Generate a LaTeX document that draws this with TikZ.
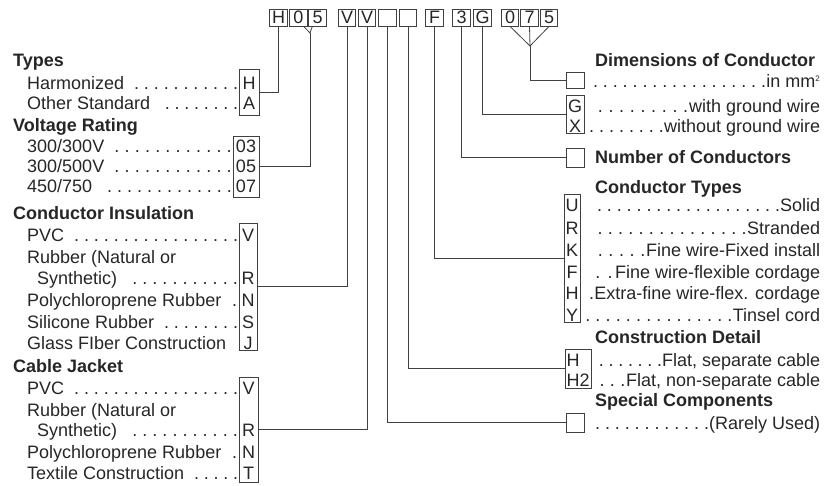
\documentclass[tikz,border=0pt]{standalone}
\usepackage{fontspec}
\setmainfont{Liberation Sans}
\usetikzlibrary{positioning}
\newcommand\dotsto{\xleaders\hbox to 9.7pt{\hss.}\hfill}
\tikzset{
  txt/.style={inner sep=0pt, text height=12.9pt, text depth=0pt, text=black!85, font=\fontsize{18}{21}\selectfont},
  hd/.style={txt, anchor=west, font=\fontsize{18}{21}\selectfont\bfseries},
  codebox/.style={txt, draw=black!75, line width=0.8pt, minimum width=17.5pt, minimum height=17pt},
  keybox/.style={draw=black!75, line width=0.8pt, inner sep=0pt},
  wire/.style={draw=black!75, line width=0.8pt},
}
% left row: name, x, y, end x, text
\newcommand\lrow[5]{\node[txt,anchor=west] (#1) at (#2,#3) {\makebox[\dimexpr#4pt-#2pt\relax][l]{#5}};}
% right row: name, x, y, text
\newcommand\rrow[4]{\node[txt,anchor=west] (#1) at (#2,#3) {\makebox[\dimexpr820pt-#2pt\relax][r]{#4}};}
\begin{document}
\begin{tikzpicture}[x=1pt,y=-1pt]
\useasboundingbox (0,0) rectangle (834,485);
%\draw[step=10,gray,very thin] (0,0) grid (834,485);
% code along the top
\node[codebox] (cH) at (278.5,17.5) {H};
\node[codebox] (cZa) at (298.5,17.5) {0};
\node[codebox] (cFa) at (317.5,17.5) {5};
\node[codebox] (cVa) at (347,17.5) {V};
\node[codebox] (cVb) at (367,17.5) {V};
\node[codebox] (cEa) at (387.5,17.5) {};
\node[codebox] (cEb) at (408,17.5) {};
\node[codebox] (cF) at (434.5,17.5) {F};
\node[codebox] (cThree) at (461.5,17.5) {3};
\node[codebox] (cG) at (482.5,17.5) {G};
\node[codebox] (cZb) at (510,17.5) {0};
\node[codebox] (cSeven) at (529.5,17.5) {7};
\node[codebox] (cFb) at (549,17.5) {5};
\coordinate (vVolt) at (310,33);
\coordinate (vDim) at (530,46);

% Types
\node[hd] (hTypes) at (13,60) {Types};
\lrow{rHarm}{27}{83}{238}{Harmonized \dotsto}
\lrow{rOther}{27}{103}{238}{Other Standard \ \dotsto}
\node[keybox,minimum width=20pt,minimum height=46pt] (types) at (249,92) {};
\node[txt] (kH) at (249,83) {H};
\node[txt] (kA) at (249,103) {A};

% Voltage Rating
\node[hd] (hVolt) at (13,125) {Voltage Rating};
\lrow{rVa}{27}{146}{232}{300/300V \dotsto}
\lrow{rVb}{27}{166}{232}{300/500V \dotsto}
\lrow{rVc}{27}{186}{232}{450/750 \ \dotsto}
\node[keybox,minimum width=26pt,minimum height=61pt] (volt) at (246,166.5) {};
\node[txt] (kVa) at (246,146) {03};
\node[txt] (kVb) at (246,166) {05};
\node[txt] (kVc) at (246,186) {07};

% Conductor Insulation
\node[hd] (hIns) at (13,213) {Conductor Insulation};
\lrow{rIa}{27}{235}{238}{PVC \dotsto}
\lrow{rIb}{27}{257}{238}{Rubber (Natural or}
\lrow{rIc}{37}{278}{238}{Synthetic) \ \dotsto}
\lrow{rId}{27}{300}{238}{Polychloroprene Rubber \dotsto}
\lrow{rIe}{27}{322}{238}{Silicone Rubber \dotsto}
\lrow{rIf}{27}{343}{238}{Glass FIber Construction \dotsto}
\node[keybox,minimum width=18pt,minimum height=127pt] (ins) at (248,286.5) {};
\node[txt] (kIa) at (248,235) {V};
\node[txt] (kIc) at (248,278) {R};
\node[txt] (kId) at (248,300) {N};
\node[txt] (kIe) at (248,322) {S};
\node[txt] (kIf) at (248,343) {J};

% Cable Jacket
\node[hd] (hJack) at (13,366) {Cable Jacket};
\lrow{rJa}{27}{388}{238}{PVC \dotsto}
\lrow{rJb}{27}{410}{238}{Rubber (Natural or}
\lrow{rJc}{37}{430}{238}{Synthetic) \ \dotsto}
\lrow{rJd}{27}{452}{238}{Polychloroprene Rubber \dotsto}
\lrow{rJe}{27}{473}{238}{Textile Construction \dotsto}
\node[keybox,minimum width=19pt,minimum height=105pt] (jack) at (248.5,429.5) {};
\node[txt] (kJa) at (248.5,388) {V};
\node[txt] (kJc) at (248.5,430) {R};
\node[txt] (kJd) at (248.5,452) {N};
\node[txt] (kJe) at (248.5,473) {T};

% Dimensions of Conductor
\node[hd] (hDim) at (595,60) {Dimensions of Conductor};
\node[keybox,minimum width=18pt,minimum height=16pt] (dims) at (575,80) {};
\rrow{rDim}{588}{81}{\dotsto in mm\textsuperscript{\footnotesize 2}}
\node[keybox,minimum width=18pt,minimum height=38pt] (gx) at (575,114) {};
\node[txt] (kG) at (575,106) {G};
\node[txt] (kX) at (575,126) {X};
\rrow{rG}{592}{106}{\dotsto with ground wire}
\rrow{rX}{584}{126}{\dotsto without ground wire}

% Number of Conductors
\node[keybox,minimum width=18pt,minimum height=19pt] (num) at (575,157.5) {};
\node[hd] (hNum) at (595,157) {Number of Conductors};

% Conductor Types
\node[hd] (hType) at (595,187) {Conductor Types};
\node[keybox,minimum width=16pt,minimum height=128pt] (ctype) at (572,258) {};
\node[txt] (kU) at (572,205) {U};
\node[txt] (kR) at (572,228) {R};
\node[txt] (kK) at (572,250) {K};
\node[txt] (kF) at (572,272) {F};
\node[txt] (kHf) at (572,293) {H};
\node[txt] (kY) at (572,315) {Y};
\rrow{rU}{592}{205}{\dotsto Solid}
\rrow{rR}{592}{228}{\dotsto Stranded}
\rrow{rK}{592}{250}{\dotsto Fine wire-Fixed install}
\rrow{rF}{588}{272}{\dotsto Fine wire-flexible cordage}
\rrow{rHf}{584}{293}{\dotsto Extra-fine wire-flex. cordage}
\rrow{rY}{580}{315}{\dotsto Tinsel cord}

% Construction Detail
\node[hd] (hCon) at (595,337) {Construction Detail};
\node[keybox,minimum width=26pt,minimum height=39pt] (constr) at (578,368.5) {};
\node[txt,anchor=west] (kHa) at (566.5,360) {H};
\node[txt,anchor=west] (kHb) at (566.5,380) {H2};
\rrow{rHa}{594}{360}{\dotsto Flat, separate cable}
\rrow{rHb}{594}{380}{\dotsto Flat, non-separate cable}

% Special Components
\node[hd] (hSpec) at (595,400) {Special Components};
\node[keybox,minimum width=18pt,minimum height=19pt] (spec) at (575,422.5) {};
\rrow{rSpec}{590}{423}{\dotsto(Rarely Used)}

% connectors
\draw[wire] (cZa.-60) -- (vVolt) -- (cFa.-120);
\draw[wire] (cZb.south) -- (vDim) -- (cFb.south);
\draw[wire] (cSeven.south) -- (vDim);
\draw[wire] (cH.south) |- (types.east);
\draw[wire] (vVolt) |- (volt.east);
\draw[wire] (cVa.south) |- (ins.east);
\draw[wire] (cVb.south) |- (jack.east);
\draw[wire] (cEa.south) |- (spec.west);
\draw[wire] (cEb.south) |- (constr.west);
\draw[wire] (cF.south) |- (ctype.west);
\draw[wire] (cThree.south) |- (num.west);
\draw[wire] (cG.south) |- (gx.west);
\draw[wire] (vDim) |- (dims.west);
\end{tikzpicture}
\end{document}
